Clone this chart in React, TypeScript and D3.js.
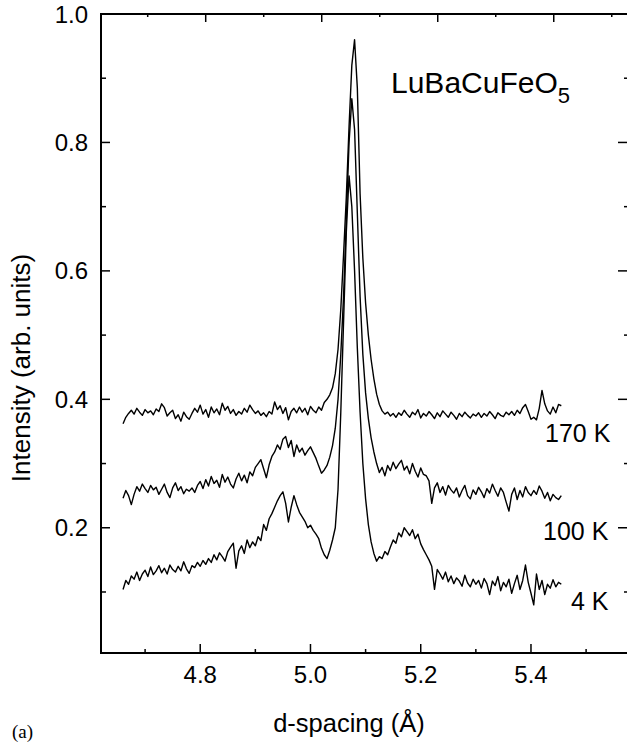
import React from 'react';
import * as d3 from 'd3';

// sampling grid of the measurement (d-spacing, Å)
const dStart = 4.66;
const dStep = 0.005;

const intensity170K = [
  0.362, 0.372, 0.378, 0.383, 0.377, 0.386, 0.380, 0.375, 0.384, 0.379,
  0.382, 0.376, 0.385, 0.381, 0.393, 0.387, 0.374, 0.379, 0.383, 0.370,
  0.376, 0.366, 0.380, 0.373, 0.369, 0.378, 0.386, 0.380, 0.391, 0.377,
  0.384, 0.372, 0.388, 0.379, 0.385, 0.376, 0.394, 0.383, 0.389, 0.378,
  0.384, 0.375, 0.381, 0.377, 0.386, 0.380, 0.391, 0.384, 0.378, 0.382,
  0.375, 0.379, 0.373, 0.381, 0.377, 0.396, 0.384, 0.390, 0.378, 0.387,
  0.368, 0.381, 0.386, 0.379, 0.388, 0.380, 0.386, 0.376, 0.389, 0.383,
  0.379, 0.388, 0.383, 0.395, 0.400, 0.407, 0.418, 0.440, 0.478, 0.540,
  0.625, 0.715, 0.825, 0.920, 0.960, 0.885, 0.720, 0.620, 0.550, 0.500,
  0.462, 0.432, 0.408, 0.392, 0.382, 0.377, 0.380, 0.374, 0.378, 0.372,
  0.379, 0.375, 0.383, 0.377, 0.372, 0.380, 0.376, 0.384, 0.371, 0.378,
  0.374, 0.381, 0.376, 0.370, 0.379, 0.373, 0.382, 0.377, 0.372, 0.380,
  0.375, 0.369, 0.378, 0.373, 0.380, 0.375, 0.371, 0.377, 0.374, 0.379,
  0.372, 0.378, 0.374, 0.381, 0.376, 0.370, 0.379, 0.375, 0.373, 0.380,
  0.376, 0.381, 0.375, 0.383, 0.378, 0.387, 0.392, 0.381, 0.369, 0.372,
  0.368, 0.386, 0.414, 0.393, 0.382, 0.377, 0.388, 0.379, 0.392, 0.390,
];

const intensity100K = [
  0.246, 0.258, 0.250, 0.236, 0.252, 0.264, 0.257, 0.268, 0.261, 0.255,
  0.266, 0.259, 0.263, 0.252, 0.260, 0.268, 0.255, 0.247, 0.262, 0.270,
  0.258, 0.264, 0.253, 0.260, 0.257, 0.262, 0.255, 0.266, 0.272, 0.261,
  0.275, 0.265, 0.280, 0.269, 0.274, 0.263, 0.283, 0.271, 0.279, 0.268,
  0.262, 0.276, 0.285, 0.273, 0.282, 0.270, 0.287, 0.281, 0.294, 0.300,
  0.306, 0.292, 0.278, 0.298, 0.311, 0.318, 0.329, 0.322, 0.338, 0.342,
  0.325, 0.336, 0.311, 0.329, 0.318, 0.324, 0.313, 0.320, 0.326, 0.317,
  0.308, 0.296, 0.285, 0.290, 0.297, 0.310, 0.328, 0.355, 0.400, 0.470,
  0.560, 0.680, 0.800, 0.868, 0.820, 0.690, 0.560, 0.470, 0.410, 0.370,
  0.340, 0.318, 0.300, 0.286, 0.294, 0.281, 0.297, 0.289, 0.302, 0.292,
  0.299, 0.305, 0.290, 0.296, 0.284, 0.300, 0.288, 0.279, 0.293, 0.283,
  0.281, 0.273, 0.238, 0.262, 0.270, 0.255, 0.264, 0.251, 0.266, 0.259,
  0.254, 0.262, 0.248, 0.258, 0.266, 0.250, 0.245, 0.259, 0.252, 0.263,
  0.256, 0.247, 0.261, 0.254, 0.268, 0.258, 0.249, 0.262, 0.255, 0.240,
  0.226, 0.252, 0.262, 0.244, 0.258, 0.248, 0.264, 0.255, 0.250, 0.258,
  0.252, 0.265, 0.257, 0.246, 0.255, 0.242, 0.252, 0.247, 0.244, 0.250,
];

const intensity4K = [
  0.104, 0.118, 0.112, 0.125, 0.120, 0.131, 0.118, 0.128, 0.134, 0.124,
  0.139, 0.127, 0.133, 0.141, 0.130, 0.137, 0.128, 0.142, 0.135, 0.131,
  0.140, 0.133, 0.147, 0.136, 0.129, 0.141, 0.138, 0.146, 0.140, 0.149,
  0.143, 0.152, 0.146, 0.158, 0.150, 0.161, 0.155, 0.148, 0.163, 0.170,
  0.176, 0.137, 0.164, 0.172, 0.160, 0.181, 0.169, 0.178, 0.172, 0.186,
  0.180, 0.205, 0.196, 0.214, 0.222, 0.232, 0.242, 0.250, 0.256, 0.238,
  0.209, 0.232, 0.250, 0.236, 0.224, 0.217, 0.210, 0.200, 0.204, 0.196,
  0.190, 0.183, 0.168, 0.158, 0.152, 0.165, 0.181, 0.200, 0.260, 0.380,
  0.520, 0.660, 0.748, 0.700, 0.600, 0.480, 0.380, 0.300, 0.245, 0.205,
  0.178, 0.160, 0.148, 0.155, 0.152, 0.163, 0.158, 0.170, 0.181, 0.176,
  0.192, 0.186, 0.200, 0.194, 0.188, 0.197, 0.183, 0.190, 0.175, 0.166,
  0.158, 0.150, 0.140, 0.104, 0.135, 0.128, 0.120, 0.131, 0.116, 0.125,
  0.113, 0.122, 0.117, 0.109, 0.126, 0.114, 0.108, 0.120, 0.112, 0.118,
  0.106, 0.121, 0.113, 0.096, 0.117, 0.110, 0.124, 0.102, 0.115, 0.108,
  0.120, 0.098, 0.113, 0.126, 0.104, 0.118, 0.142, 0.115, 0.098, 0.080,
  0.128, 0.104, 0.118, 0.096, 0.112, 0.106, 0.119, 0.108, 0.115, 0.112,
];

const seriesLabels = ['170 K', '100 K', '4 K'];
const xMajorTicks = [4.8, 5.0, 5.2, 5.4];
const xMinorTicks = [4.7, 4.9, 5.1, 5.3, 5.5];
const yMajorTicks = [0.2, 0.4, 0.6, 0.8, 1.0];
const yMinorTicks = [0.1, 0.3, 0.5, 0.7, 0.9];

const W = 627;
const H = 746;
const left = 101;
const right = 628;
const top = 14;
const bottom = 653;
const sans = '"Liberation Sans", Arial, Helvetica, sans-serif';

export default function App() {
  const x = d3.scaleLinear().domain([4.62, 5.576]).range([left, right]);
  const xTop = d3.scaleLinear().domain([4.6195, 5.528]).range([left, right]);
  const y = d3.scaleLinear().domain([0.005, 1.0]).range([bottom, top]);

  const toPoints = (vals: number[]) => vals.map((v, i) => [dStart + i * dStep, v] as [number, number]);
  const line = d3
    .line<[number, number]>()
    .x((p) => x(p[0]))
    .y((p) => y(p[1]));

  const series = [intensity170K, intensity100K, intensity4K];
  const labelPos = [
    { x: 545, y: 442 },
    { x: 543, y: 540 },
    { x: 571, y: 610 },
  ];

  const fmt = d3.format('.1f');
  const axisStroke = 2;

  return (
    <svg
      width={W}
      height={H}
      style={{ position: 'absolute', left: 0, top: 0, background: '#fff' }}
    >
      <rect x={0} y={0} width={W} height={H} fill="#fff" />
      {/* frame */}
      <rect
        x={left}
        y={top}
        width={right - left}
        height={bottom - top}
        fill="none"
        stroke="#000"
        strokeWidth={axisStroke}
      />
      {/* bottom ticks */}
      {xMajorTicks.map((t) => (
        <line key={'bM' + t} x1={x(t)} x2={x(t)} y1={bottom} y2={bottom - 9} stroke="#000" strokeWidth={1.5} />
      ))}
      {xMinorTicks.map((t) => (
        <line key={'bm' + t} x1={x(t)} x2={x(t)} y1={bottom} y2={bottom - 4} stroke="#000" strokeWidth={1.5} />
      ))}
      {/* top ticks */}
      {xMajorTicks.map((t) => (
        <line key={'tM' + t} x1={xTop(t)} x2={xTop(t)} y1={top} y2={top + 8} stroke="#000" strokeWidth={1.5} />
      ))}
      {xMinorTicks.map((t) => (
        <line key={'tm' + t} x1={xTop(t)} x2={xTop(t)} y1={top} y2={top + 3} stroke="#000" strokeWidth={1.5} />
      ))}
      {/* left & right ticks */}
      {yMajorTicks.map((t) => (
        <g key={'yM' + t}>
          <line x1={left} x2={left + 9} y1={y(t)} y2={y(t)} stroke="#000" strokeWidth={1.5} />
          <line x1={right} x2={right - 10} y1={y(t)} y2={y(t)} stroke="#000" strokeWidth={1.5} />
        </g>
      ))}
      {yMinorTicks.map((t) => (
        <g key={'ym' + t}>
          <line x1={left} x2={left + 5} y1={y(t)} y2={y(t)} stroke="#000" strokeWidth={1.5} />
          <line x1={right} x2={right - 4} y1={y(t)} y2={y(t)} stroke="#000" strokeWidth={1.5} />
        </g>
      ))}
      {/* tick labels */}
      {xMajorTicks.map((t) => (
        <text key={'xl' + t} x={x(t)} y={683} textAnchor="middle" fontFamily={sans} fontSize={24}>
          {fmt(t)}
        </text>
      ))}
      {yMajorTicks.map((t) => (
        <text key={'yl' + t} x={88} y={y(t) + 8.5} textAnchor="end" fontFamily={sans} fontSize={24}>
          {fmt(t)}
        </text>
      ))}
      {/* axis titles */}
      <text x={349} y={732} textAnchor="middle" fontFamily={sans} fontSize={25.5}>
        d-spacing (Å)
      </text>
      <text
        transform={`translate(30, 368) rotate(-90)`}
        textAnchor="middle"
        fontFamily={sans}
        fontSize={26}
      >
        Intensity (arb. units)
      </text>
      {/* data */}
      {series.map((s, i) => (
        <path key={'s' + i} d={line(toPoints(s)) || ''} fill="none" stroke="#000" strokeWidth={1.4} strokeLinejoin="round" />
      ))}
      {seriesLabels.map((lab, i) => (
        <text key={'lab' + i} x={labelPos[i].x} y={labelPos[i].y} fontFamily={sans} fontSize={25}>
          {lab}
        </text>
      ))}
      {/* compound label */}
      <text x={391} y={93} fontFamily={sans} fontSize={30}>
        LuBaCuFeO
        <tspan fontSize={22} dy={10}>5</tspan>
      </text>
      <text x={12} y={738} fontFamily={'"Liberation Serif", "Times New Roman", serif'} fontSize={19}>
        (a)
      </text>
    </svg>
  );
}
